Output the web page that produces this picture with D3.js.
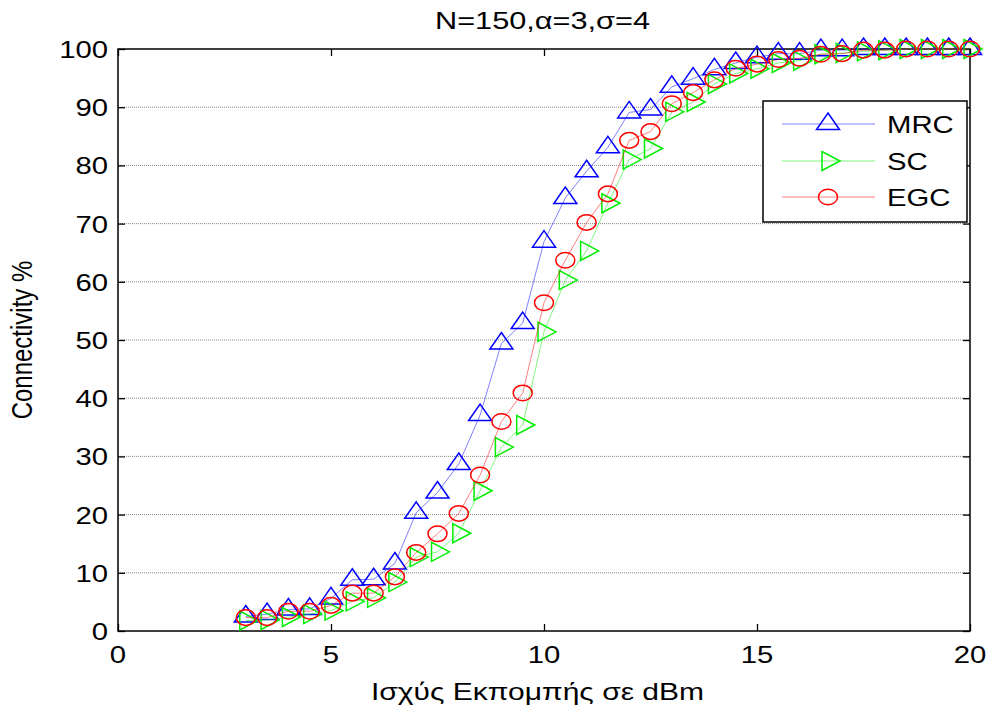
<!DOCTYPE html>
<html>
<head>
<meta charset="utf-8">
<script src="https://cdn.jsdelivr.net/npm/d3@7"></script>
<style>
  html, body { margin: 0; padding: 0; background: #fff; }
  svg { display: block; }
  text { font-family: "Liberation Sans", Arial, sans-serif; fill: #000; }
</style>
</head>
<body>
<svg id="chart" width="992" height="710"></svg>
<script>
// Transmit power (dBm) at which connectivity was measured
const powerDbm = [3, 3.5, 4, 4.5, 5, 5.5, 6, 6.5, 7, 7.5, 8, 8.5, 9, 9.5, 10, 10.5,
  11, 11.5, 12, 12.5, 13, 13.5, 14, 14.5, 15, 15.5, 16, 16.5, 17, 17.5, 18, 18.5,
  19, 19.5, 20];

// Connectivity (%) per diversity combining scheme
const mrc = [2.5, 2.9, 3.7, 3.8, 5.6, 8.8, 8.9, 11.6, 20.3, 23.8, 28.7, 37.1, 49.4,
  52.9, 66.9, 74.4, 79.0, 83.1, 89.1, 89.6, 93.5, 94.9, 96.5, 97.6, 98.6, 99.2,
  99.2, 99.8, 99.8, 100, 100, 100, 100, 100, 100];
const sc = [1.8, 1.9, 2.4, 2.9, 3.5, 5.1, 5.7, 8.4, 12.7, 13.6, 16.8, 24.1, 31.6,
  35.4, 51.4, 60.3, 65.3, 73.5, 81.0, 82.9, 89.2, 90.9, 94.0, 95.8, 96.6, 97.6,
  98.0, 99.1, 99.3, 99.6, 99.8, 100, 100, 100, 100];
const egc = [2.3, 2.3, 3.4, 3.4, 4.4, 6.5, 6.5, 9.3, 13.5, 16.7, 20.2, 26.8, 36.0,
  40.9, 56.4, 63.7, 70.2, 75.1, 84.3, 85.8, 90.6, 92.5, 94.7, 96.7, 97.4, 98.2,
  98.4, 99.1, 99.2, 99.8, 99.8, 100, 100, 100, 100];

const seriesNames = ["MRC", "SC", "EGC"];
const seriesColors = ["#0000ff", "#00ee00", "#ff0000"];
const seriesMarkers = ["up", "right", "circle"];

const xTicks = [0, 5, 10, 15, 20];
const yTicks = [0, 10, 20, 30, 40, 50, 60, 70, 80, 90, 100];
const titleText = "N=150,α=3,σ=4";
const xLabel = "Ισχύς Εκπομπής σε dBm";
const yLabel = "Connectivity %";

const svg = d3.select("#chart");
const plot = { left: 118, right: 970, top: 49, bottom: 631 };

const x = d3.scaleLinear().domain([0, 20]).range([plot.left, plot.right]);
const y = d3.scaleLinear().domain([0, 100]).range([plot.bottom, plot.top]);

const FONT = 24, SX = 1.22;
// horizontally widened text
function label(g, txt, px, py, anchor, sx = SX) {
  return g.append("text")
    .attr("transform", `translate(${px},${py}) scale(${sx},1)`)
    .attr("text-anchor", anchor)
    .attr("font-size", FONT)
    .text(txt);
}

// horizontal grid
svg.append("g").selectAll("line")
  .data(yTicks.filter(t => t > 0 && t < 100))
  .join("line")
  .attr("x1", plot.left).attr("x2", plot.right)
  .attr("y1", d => y(d)).attr("y2", d => y(d))
  .attr("stroke", "#8a8a8a").attr("stroke-width", 1)
  .attr("stroke-dasharray", "1,1");

// axes box and inward ticks
const axisG = svg.append("g");
axisG.append("rect")
  .attr("x", plot.left).attr("y", plot.top)
  .attr("width", plot.right - plot.left).attr("height", plot.bottom - plot.top)
  .attr("fill", "none").attr("stroke", "#000").attr("stroke-width", 1.5);

const tickLen = 7;
const bottomAxis = d3.axisBottom(x).tickValues(xTicks).tickSize(-tickLen).tickFormat("");
const topAxis = d3.axisTop(x).tickValues(xTicks).tickSize(-tickLen).tickFormat("");
const leftAxis = d3.axisLeft(y).tickValues(yTicks).tickSize(-tickLen).tickFormat("");
const rightAxis = d3.axisRight(y).tickValues(yTicks).tickSize(-tickLen).tickFormat("");
[[bottomAxis, `translate(0,${plot.bottom})`], [topAxis, `translate(0,${plot.top})`],
 [leftAxis, `translate(${plot.left},0)`], [rightAxis, `translate(${plot.right},0)`]]
  .forEach(([ax, tr]) => {
    const g = axisG.append("g").attr("transform", tr).call(ax);
    g.select(".domain").remove();
    g.selectAll(".tick line").attr("stroke", "#000").attr("stroke-width", 1.3);
  });

// tick labels
const labelsG = svg.append("g");
xTicks.forEach(t => label(labelsG, String(t), x(t), plot.bottom + 32, "middle"));
yTicks.forEach(t => label(labelsG, String(t), plot.left - 10, y(t) + 9, "end"));

// title and axis titles
label(svg, titleText, 542.5, 28.5, "middle", 1.28);
label(svg, xLabel, 537.5, 699.5, "middle", 1.25);
svg.append("text")
  .attr("transform", `translate(32,${y(50)}) rotate(-90) scale(1,${SX})`)
  .attr("text-anchor", "middle")
  .attr("font-size", FONT)
  .text(yLabel);

// marker shapes
function drawMarker(g, kind, cx, cy, color) {
  if (kind === "up") {
    g.append("path")
      .attr("d", `M${cx},${cy - 11} L${cx + 11.5},${cy + 5.5} L${cx - 11.5},${cy + 5.5} Z`)
      .attr("fill", "none").attr("stroke", color).attr("stroke-width", 1.5);
  } else if (kind === "right") {
    g.append("path")
      .attr("d", `M${cx + 12},${cy} L${cx - 6},${cy - 9.5} L${cx - 6},${cy + 9.5} Z`)
      .attr("fill", "none").attr("stroke", color).attr("stroke-width", 1.5);
  } else {
    g.append("ellipse")
      .attr("cx", cx).attr("cy", cy).attr("rx", 9.5).attr("ry", 7.8)
      .attr("fill", "none").attr("stroke", color).attr("stroke-width", 1.5);
  }
}

const allSeries = [mrc, sc, egc];
const line = d3.line().x(d => x(d[0])).y(d => y(d[1]));
const dataG = svg.append("g");
allSeries.forEach((vals, i) => {
  const pts = powerDbm.map((p, j) => [p, vals[j]]);
  const sg = dataG.append("g");
  sg.append("path").datum(pts)
    .attr("d", line)
    .attr("fill", "none")
    .attr("stroke", seriesColors[i])
    .attr("stroke-opacity", 0.5)
    .attr("stroke-width", 1);
  pts.forEach(p => drawMarker(sg, seriesMarkers[i], x(p[0]), y(p[1]), seriesColors[i]));
});

// legend
const lg = svg.append("g");
const lgBox = { x: 763, y: 101, w: 204, h: 121 };
lg.append("rect")
  .attr("x", lgBox.x).attr("y", lgBox.y).attr("width", lgBox.w).attr("height", lgBox.h)
  .attr("fill", "#fff").attr("stroke", "#000").attr("stroke-width", 1.5);
const rowY = [124, 161, 197];
seriesNames.forEach((name, i) => {
  lg.append("line")
    .attr("x1", 782).attr("x2", 875)
    .attr("y1", rowY[i]).attr("y2", rowY[i])
    .attr("stroke", seriesColors[i]).attr("stroke-opacity", 0.5).attr("stroke-width", 1);
  drawMarker(lg, seriesMarkers[i], 828, rowY[i], seriesColors[i]);
  label(lg, name, 887, rowY[i] + 9, "start");
});
</script>
</body>
</html>
